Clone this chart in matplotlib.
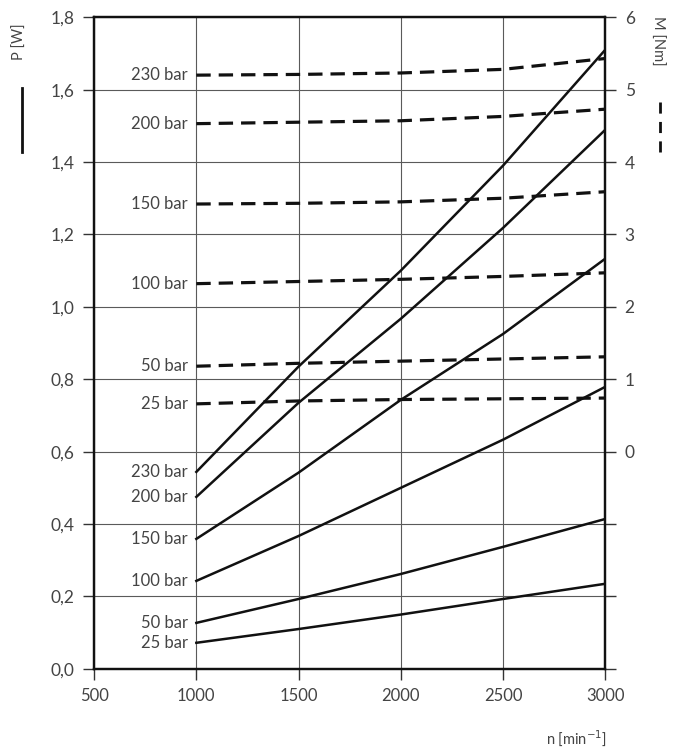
import matplotlib
matplotlib.use("Agg")
import matplotlib.pyplot as plt
from matplotlib.lines import Line2D

# speed n [min^-1]
n = [1000, 1500, 2000, 2500, 3000]
pressures = ["230 bar", "200 bar", "150 bar", "100 bar", "50 bar", "25 bar"]

# power P [W] (solid lines, left axis)
p_230 = [0.544, 0.835, 1.10, 1.39, 1.71]
p_200 = [0.475, 0.735, 0.967, 1.218, 1.489]
p_150 = [0.359, 0.542, 0.743, 0.925, 1.133]
p_100 = [0.243, 0.367, 0.50, 0.633, 0.779]
p_50 = [0.127, 0.193, 0.262, 0.337, 0.414]
p_25 = [0.072, 0.11, 0.15, 0.193, 0.235]

# torque M [Nm] (dashed lines, right axis)
m_230 = [5.20, 5.21, 5.23, 5.28, 5.43]
m_200 = [4.53, 4.55, 4.57, 4.63, 4.73]
m_150 = [3.42, 3.43, 3.45, 3.50, 3.59]
m_100 = [2.32, 2.35, 2.38, 2.42, 2.47]
m_50 = [1.18, 1.22, 1.25, 1.28, 1.31]
m_25 = [0.66, 0.70, 0.72, 0.73, 0.74]

x_ticks = [500, 1000, 1500, 2000, 2500, 3000]
p_ticks = [0.0, 0.2, 0.4, 0.6, 0.8, 1.0, 1.2, 1.4, 1.6, 1.8]
m_ticks = [-3, -2, -1, 0, 1, 2, 3, 4, 5, 6]

power = [p_230, p_200, p_150, p_100, p_50, p_25]
torque = [m_230, m_200, m_150, m_100, m_50, m_25]

txt = "#444444"
ink = "#111111"
plt.rcParams["font.family"] = ["Lato", "DejaVu Sans"]

fig = plt.figure(figsize=(6.77, 7.49), dpi=100)
ax = fig.add_axes([0.139, 0.107, 0.755, 0.870])
ax.set_xlim(500, 3000)
ax.set_ylim(0, 1.8)
ax.set_xticks(x_ticks)
ax.set_xticklabels([str(v) for v in x_ticks], color=txt, fontsize=12)
ax.set_yticks(p_ticks)
ax.set_yticklabels([f"{v:.1f}".replace(".", ",") for v in p_ticks], color=txt, fontsize=12.5)
ax.tick_params(direction="out", length=8, width=1, color="#333333", pad=6)
ax.grid(True, color="#5a5a5a", linewidth=0.8)
for s in ax.spines.values():
    s.set_linewidth(1.6)
    s.set_color(ink)

ax2 = ax.twinx()
ax2.set_ylim(-3, 6)
ax2.set_yticks(m_ticks)
ax2.set_yticklabels(["" if v < 0 else str(v) for v in m_ticks], color=txt, fontsize=12.5)
ax2.tick_params(direction="out", length=8, width=1, color="#333333", pad=6)
for s in ax2.spines.values():
    s.set_linewidth(1.6)
    s.set_color(ink)

for lab, p in zip(pressures, power):
    ax.plot(n, p, color=ink, linewidth=1.8)
    ax.annotate(lab, (n[0], p[0]), xytext=(-6, 0), textcoords="offset points",
                ha="right", va="center", color=txt, fontsize=12)

for lab, m in zip(pressures, torque):
    ax2.plot(n, m, color=ink, linewidth=2.3, dashes=(4.5, 2.5))
    ax2.annotate(lab, (n[0], m[0]), xytext=(-6, 0), textcoords="offset points",
                 ha="right", va="center", color=txt, fontsize=12)

# axis names with line-style keys
fig.text(0.030, 0.945, "P [W]", rotation=90, ha="center", va="center", color=txt, fontsize=10.5)
fig.add_artist(Line2D([0.032, 0.032], [0.797, 0.883], color=ink, linewidth=2))
fig.text(0.971, 0.945, "M [Nm]", rotation=270, ha="center", va="center", color=txt, fontsize=10.5)
fig.add_artist(Line2D([0.975, 0.975], [0.797, 0.875], color=ink, linewidth=2, dashes=(4, 3)))
fig.text(0.852, 0.015, "n [min$^{-1}$]", ha="center", va="center", color=txt, fontsize=10.5)

fig.savefig("out.png", dpi=100, facecolor="white")
